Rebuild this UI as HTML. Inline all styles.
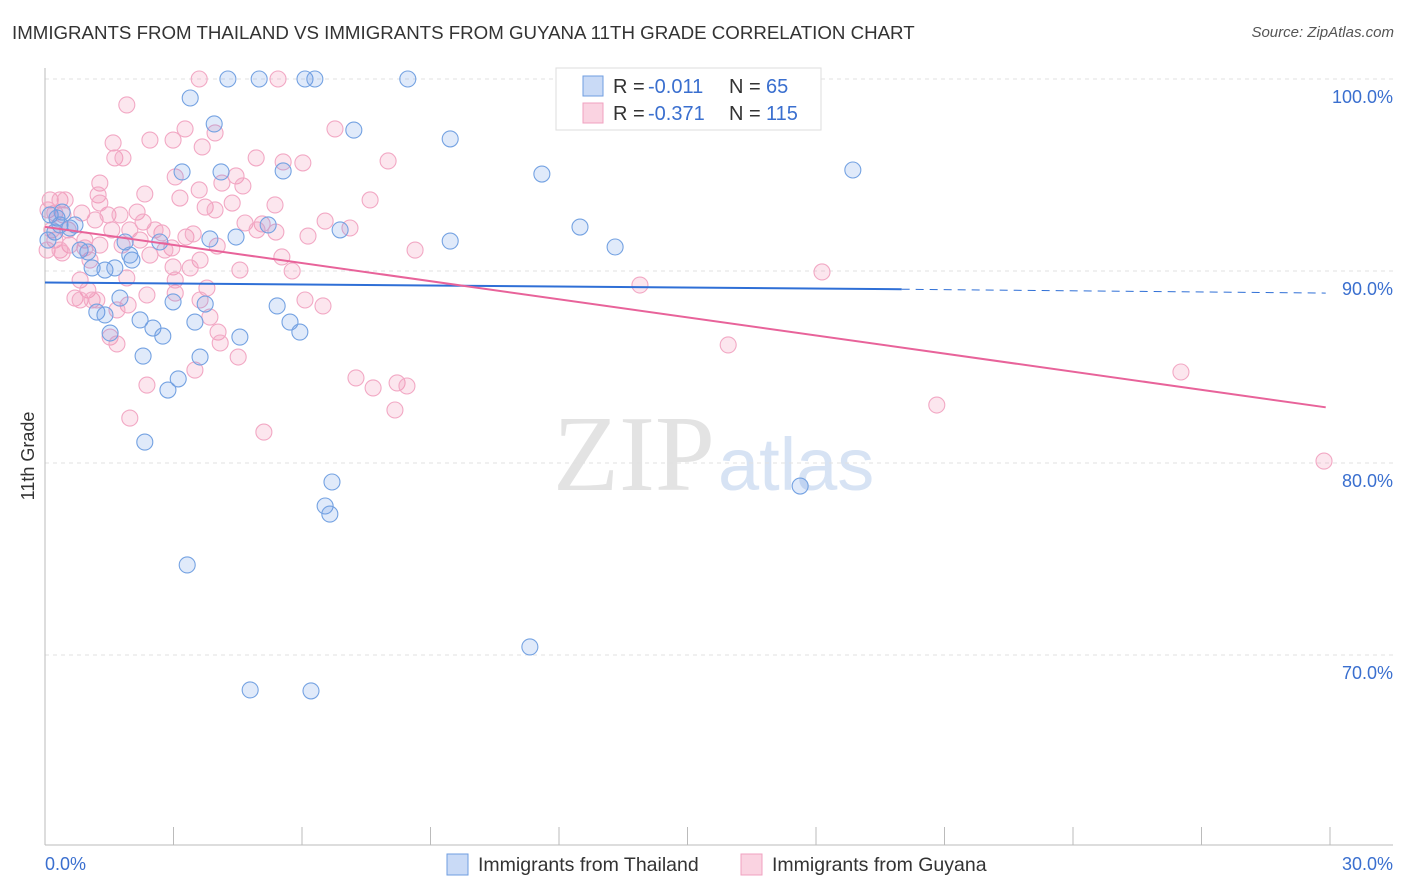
<!DOCTYPE html>
<html><head><meta charset="utf-8">
<style>
body{margin:0;background:#fff;font-family:"Liberation Sans",sans-serif;}
#wrap{position:relative;width:1406px;height:892px;overflow:hidden;}
.title{position:absolute;left:12px;top:22px;font-size:18.7px;color:#333;}
.src{position:absolute;right:12px;top:24px;font-size:15px;color:#555;font-style:italic;}
</style></head>
<body><div id="wrap">
<div class="title">IMMIGRANTS FROM THAILAND VS IMMIGRANTS FROM GUYANA 11TH GRADE CORRELATION CHART</div>
<div class="src">Source: ZipAtlas.com</div>
<svg id="svg" width="1406" height="892" style="position:absolute;left:0;top:0"></svg>
</div>
<script>
const bluePx=[[190,98],[228,79],[259,79],[305,79],[315,79],[408,79],[214,124],[354,130],[450,139],[182,172],[221,172],[283,171],[542,174],[853,170],[50,215],[57,218],[60,225],[70,228],[55,232],[80,250],[88,252],[92,268],[105,270],[115,268],[132,260],[125,242],[160,242],[210,239],[236,237],[268,225],[340,230],[450,241],[580,227],[615,247],[120,298],[97,312],[105,315],[140,320],[153,328],[163,336],[173,302],[195,322],[205,304],[277,306],[290,322],[300,332],[240,337],[110,333],[143,356],[200,357],[178,379],[168,390],[145,442],[332,482],[325,506],[330,514],[800,486],[187,565],[530,647],[250,690],[311,691],[130,255],[75,225],[62,212],[48,240]];
const pinkPx=[[199,79],[278,79],[127,105],[185,129],[215,133],[335,129],[150,140],[173,140],[202,147],[113,143],[115,158],[123,158],[283,162],[303,163],[388,161],[256,158],[175,177],[236,176],[222,183],[243,186],[100,183],[98,195],[145,194],[180,198],[199,190],[205,207],[215,210],[370,200],[275,205],[50,200],[60,200],[65,200],[82,213],[95,220],[108,215],[120,215],[137,212],[143,222],[162,233],[186,237],[193,234],[217,246],[245,223],[262,224],[276,232],[308,236],[325,221],[350,228],[415,250],[55,240],[70,245],[85,240],[100,245],[122,245],[140,240],[150,255],[172,248],[200,260],[127,278],[173,267],[190,268],[80,280],[88,290],[75,298],[80,300],[92,300],[97,300],[147,295],[175,293],[207,288],[292,271],[305,300],[323,306],[128,305],[117,310],[210,317],[218,332],[220,343],[110,337],[117,344],[238,357],[195,370],[147,385],[130,418],[264,432],[356,378],[373,388],[397,383],[407,386],[395,410],[640,285],[822,272],[728,345],[937,405],[1181,372],[1324,461],[47,250],[52,230],[68,230],[90,260],[60,250],[63,215],[100,203],[112,230],[165,250],[232,203],[257,230],[48,210],[55,213],[85,248],[155,230],[175,280],[200,300],[240,270],[130,230],[62,253],[282,257]];
const blueX=bluePx.map(p=>+((p[0]-45)/1285*30).toFixed(2));
const blueY=bluePx.map(p=>+(100-(p[1]-79)/19.2).toFixed(2));
const pinkX=pinkPx.map(p=>+((p[0]-45)/1285*30).toFixed(2));
const pinkY=pinkPx.map(p=>+(100-(p[1]-79)/19.2).toFixed(2));
const yTicks=[100,90,80,70];
const yTickLabels=["100.0%","90.0%","80.0%","70.0%"];
const blueTrend=[[0,89.4],[20,89.05],[29.9,88.85]];
const pinkTrend=[[0,92.3],[29.9,82.9]];

const X=v=>45+v/30*1285, Y=v=>79+(100-v)*19.2;
const svg=document.getElementById('svg'),NS='http://www.w3.org/2000/svg';
function mk(t,a,txt){const e=document.createElementNS(NS,t);for(const k in a)e.setAttribute(k,a[k]);if(txt!=null)e.textContent=txt;svg.appendChild(e);return e;}
let w=mk('text',{x:553,y:490,'font-size':108,'font-family':'Liberation Serif,serif',fill:'#e3e3e3'},'ZIP');

w=mk('text',{x:718,y:490,'font-size':74,'font-family':'Liberation Sans,sans-serif',fill:'#d7e3f4'},'atlas');

yTicks.forEach((t,i)=>{let l=mk('line',{x1:45,x2:1393,y1:Y(t),y2:Y(t),stroke:'#e2e2e2','stroke-dasharray':'4,4'});

let tx=mk('text',{x:1393,y:Y(t)+24,'text-anchor':'end','font-size':18,fill:'#3a6fcf'},yTickLabels[i]);
});
let ax=mk('line',{x1:45,x2:45,y1:68,y2:845,stroke:'#bbb'});
ax=mk('line',{x1:45,x2:1393,y1:845,y2:845,stroke:'#bbb'});
for(let i=0;i<=10;i++){let t=mk('line',{x1:X(i*3),x2:X(i*3),y1:827,y2:845,stroke:'#bbb'});}
let t=mk('text',{x:45,y:870,'font-size':18,fill:'#3a6fcf'},'0.0%');
t=mk('text',{x:1393,y:870,'text-anchor':'end','font-size':18,fill:'#3a6fcf'},'30.0%');
t=mk('text',{x:34,y:456,'font-size':18,fill:'#333','text-anchor':'middle',transform:'rotate(-90 34 456)'},'11th Grade');
pinkX.forEach((x,i)=>{let c=mk('circle',{cx:X(x),cy:Y(pinkY[i]),r:8,fill:'rgba(240,130,170,0.2)',stroke:'#f2a8c4','stroke-width':1.1});
});
blueX.forEach((x,i)=>{let c=mk('circle',{cx:X(x),cy:Y(blueY[i]),r:8,fill:'rgba(100,150,230,0.2)',stroke:'#74a2e2','stroke-width':1.1});
});
let l=mk('line',{x1:X(blueTrend[0][0]),y1:Y(blueTrend[0][1]),x2:X(blueTrend[1][0]),y2:Y(blueTrend[1][1]),stroke:'#2f6fd6','stroke-width':2});

l=mk('line',{x1:X(blueTrend[1][0]),y1:Y(blueTrend[1][1]),x2:X(blueTrend[2][0]),y2:Y(blueTrend[2][1]),stroke:'#2f6fd6','stroke-width':1,'stroke-dasharray':'8,6'});

l=mk('line',{x1:X(pinkTrend[0][0]),y1:Y(pinkTrend[0][1]),x2:X(pinkTrend[1][0]),y2:Y(pinkTrend[1][1]),stroke:'#e8639a','stroke-width':2});

let r=mk('rect',{x:556,y:68,width:265,height:62,fill:'#fff',stroke:'#ddd'});
[[0,'rgba(100,150,230,0.35)','#6f9ee0','-0.011',' 65'],[1,'rgba(240,130,170,0.35)','#f0a2c0','-0.371','115']].forEach(([i,f,s,R,N])=>{
 const yy=86+i*27;
 let q=mk('rect',{x:583,y:yy-10,width:20,height:20,fill:f,stroke:s});
 let tt=mk('text',{x:613,y:yy+7,'font-size':20,fill:'#333'},'R = ');
 tt=mk('text',{x:648,y:yy+7,'font-size':20,fill:'#3a6fcf'},R);
 tt=mk('text',{x:729,y:yy+7,'font-size':20,fill:'#333'},'N = ');
 tt=mk('text',{x:766,y:yy+7,'font-size':20,fill:'#3a6fcf'},N);
});
[[447,'rgba(100,150,230,0.35)','#6f9ee0','Immigrants from Thailand'],[741,'rgba(240,130,170,0.35)','#f0a2c0','Immigrants from Guyana']].forEach(([x,f,s,n])=>{
 let q=mk('rect',{x:x,y:854,width:21,height:21,fill:f,stroke:s});
 let tt=mk('text',{x:x+31,y:871,'font-size':19.5,fill:'#333'},n);
});
</script>
</body></html>
